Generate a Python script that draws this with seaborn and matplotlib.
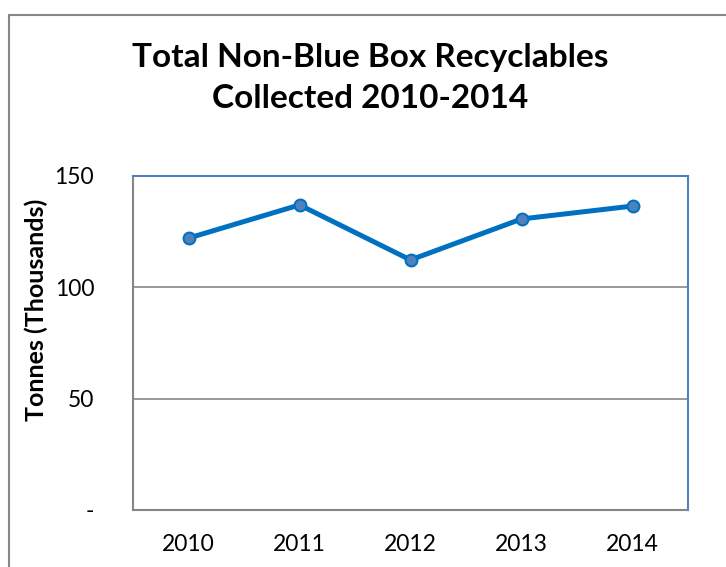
import matplotlib
matplotlib.use("Agg")
import matplotlib.pyplot as plt
import seaborn as sns
import pandas as pd
from matplotlib.patches import Rectangle

# Data
years = ["2010", "2011", "2012", "2013", "2014"]
tonnes = [122.1, 137.0, 112.3, 130.7, 136.5]
y_ticks = [0, 50, 100, 150]
y_tick_labels = ["-", "50", "100", "150"]

df = pd.DataFrame({"pos": range(len(years)), "year": years, "tonnes": tonnes})

sns.set_style("white")
plt.rcParams["font.family"] = ["Lato", "DejaVu Sans"]
plt.rcParams["text.color"] = "black"
plt.rcParams["xtick.color"] = "black"
plt.rcParams["ytick.color"] = "black"
plt.rcParams["axes.labelcolor"] = "black"

fig = plt.figure(figsize=(7.26, 5.67), dpi=100)
ax = fig.add_axes([133 / 726, 1 - 510 / 567, (688 - 133) / 726, (510 - 176) / 567])

# outer chart frame (extends beyond the image on right/bottom)
fig.patches.append(Rectangle((9 / 726, -0.1), 1.2, 1 - 15 / 567 + 0.1,
                             transform=fig.transFigure, fill=False,
                             edgecolor="#868686", linewidth=1.5))

sns.lineplot(data=df, x="pos", y="tonnes", ax=ax, color="#0070C0", linewidth=3.6,
             marker="o", markersize=8.5, markerfacecolor="#4F81BD",
             markeredgecolor="#0070C0", markeredgewidth=1.5)

ax.set_xlim(-0.5, len(years) - 0.5)
ax.set_ylim(0, 150)

# tick marks between categories, labels at category centres
ax.set_xticks([i - 0.5 for i in range(len(years) + 1)])
ax.set_xticklabels([])
ax.set_xticks(range(len(years)), minor=True)
ax.set_xticklabels(years, minor=True, fontsize=16.5)
ax.tick_params(axis="x", which="major", length=5, width=1.2, color="#868686", direction="out")
ax.tick_params(axis="x", which="minor", length=0, pad=17)

ax.set_yticks(y_ticks)
ax.set_yticklabels(y_tick_labels, fontsize=16.5)
ax.tick_params(axis="y", length=5, width=1.2, color="#868686", direction="out", pad=23)

ax.yaxis.grid(True, color="#868686", linewidth=1.2)
ax.set_axisbelow(True)

for side in ["left", "bottom"]:
    ax.spines[side].set_color("#868686")
    ax.spines[side].set_linewidth(1.5)
for side in ["top", "right"]:
    ax.spines[side].set_visible(True)
    ax.spines[side].set_color("#4F81BD")
    ax.spines[side].set_linewidth(1.5)

ax.set_xlabel("")
ax.set_ylabel("Tonnes (Thousands)", fontsize=18, fontweight="bold")
ax.yaxis.set_label_coords(-(133 - 48) / 555, 0.5 + 33 / 334)

fig.text(370 / 726, 1 - 78 / 567, "Total Non-Blue Box Recyclables\nCollected 2010-2014",
         ha="center", va="center", fontsize=24, fontweight="bold", linespacing=1.5)

fig.savefig("out.png", dpi=100)
